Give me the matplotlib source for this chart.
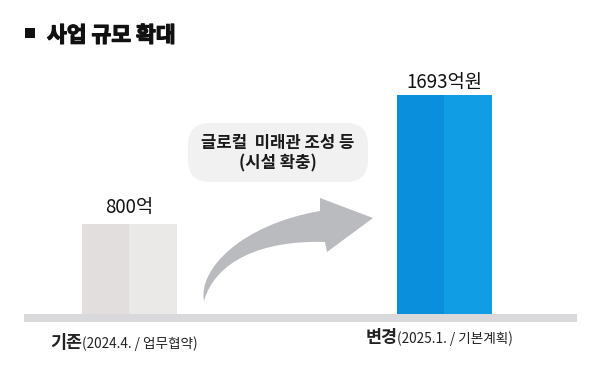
import matplotlib
matplotlib.use('Agg')
import matplotlib.pyplot as plt
from matplotlib.patches import Rectangle, FancyBboxPatch, PathPatch
from matplotlib.path import Path
import matplotlib.patheffects as pe
import matplotlib.transforms as mtransforms

plt.rcParams['font.family'] = ['Noto Sans CJK KR', 'DejaVu Sans']

# data
cat_main = ['기존', '변경']
cat_sub = ['(2024.4. / 업무협약)', '(2025.1. / 기본계획)']
values = [800, 1693]
value_labels = ['800억', '1693억원']
colors_left = ['#e2dede', '#0a8fdc']
colors_right = ['#ebe8e8', '#119de4']

W, H = 600, 373
fig = plt.figure(figsize=(6, 3.73), dpi=100)
# pixel coords (y down) -> figure
px = mtransforms.Affine2D().scale(1 / W, -1 / H).translate(0, 1) + fig.transFigure

# axes cut at the baseline strip, so bars rise from it
ax = fig.add_axes([0, (H - 314) / H, 1, 314 / H])
ax.set_xlim(-0.411, 1.494)
ax.set_ylim(172, 2356)
ax.axis('off')

bw = 0.3016
xs = range(len(values))
ax.bar([x - bw / 4 for x in xs], values, width=bw / 2, color=colors_left, linewidth=0)
ax.bar([x + bw / 4 for x in xs], values, width=bw / 2, color=colors_right, linewidth=0)

offs = [12, 9.5]
for x, v, lab, o in zip(xs, values, value_labels, offs):
    ax.annotate(lab, (x, v), xytext=(0, o), textcoords='offset points',
                ha='center', va='center', fontsize=13.5, color='#111111')

# category labels, big word + small detail
ydrop = [-21, -17.5]
for x, m, s, d in zip(xs, cat_main, cat_sub, ydrop):
    ax.annotate(m, (x, 0), xycoords=ax.get_xaxis_transform(), xytext=(-34, d),
                textcoords='offset points', ha='right', va='center',
                fontsize=12.5, fontweight='bold', color='#222222', annotation_clip=False)
    ax.annotate(s, (x, 0), xycoords=ax.get_xaxis_transform(), xytext=(-34, d - 0.5),
                textcoords='offset points', ha='left', va='center',
                fontsize=9.8, color='#222222', annotation_clip=False)

# baseline strip
fig.patches.append(Rectangle((24, 314), 553, 8, transform=px, color='#d9d9db', lw=0))

# title (stroke to get the black weight)
fig.patches.append(Rectangle((25, 28), 10, 10, transform=px, color='#111111', lw=0))
fig.text(47 / W, 1 - 35.5 / H, '사업 규모 확대', fontsize=15.5, fontweight='bold',
         va='center', ha='left', color='#111111',
         path_effects=[pe.withStroke(linewidth=0.9, foreground='#111111')])

# rounded note box
fig.patches.append(FancyBboxPatch((188, 123), 180, 59, transform=px,
                                  boxstyle='round,pad=0,rounding_size=22',
                                  fc='#f1f1f1', ec='none'))
fig.text(278 / W, 1 - 143 / H, '글로컬  미래관 조성 등', fontsize=12, fontweight='bold',
         ha='center', va='center', color='#1a1a1a')
fig.text(278 / W, 1 - 163 / H, '(시설 확충)', fontsize=12, fontweight='bold',
         ha='center', va='center', color='#1a1a1a')

# curved arrow
verts = [(204, 301), (198, 270), (240, 225), (320, 211),
         (320, 198), (373, 218), (327, 252), (325, 242),
         (260, 240), (215, 262), (204, 301), (204, 301)]
codes = [Path.MOVETO, Path.CURVE4, Path.CURVE4, Path.CURVE4,
         Path.LINETO, Path.LINETO, Path.LINETO, Path.LINETO,
         Path.CURVE4, Path.CURVE4, Path.CURVE4, Path.CLOSEPOLY]
fig.patches.append(PathPatch(Path(verts, codes), transform=px, fc='#b9bbbe', ec='none'))

fig.savefig('out.png', dpi=100)
